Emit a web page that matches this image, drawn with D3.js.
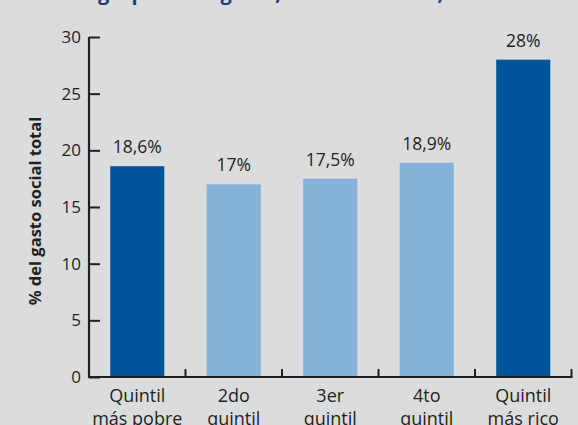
<!DOCTYPE html>
<html>
<head>
<meta charset="utf-8">
<script src="https://cdn.jsdelivr.net/npm/d3@7"></script>
<style>
  html, body { margin: 0; padding: 0; background: #dbdcde; }
  svg { display: block; }
</style>
</head>
<body>
<svg id="chart" width="578" height="425"></svg>
<script>
// Distribution of total social spending by income quintile
const categories = [["Quintil", "más pobre"], ["2do", "quintil"], ["3er", "quintil"], ["4to", "quintil"], ["Quintil", "más rico"]];
const values = [18.6, 17, 17.5, 18.9, 28];
const valueLabels = ["18,6%", "17%", "17,5%", "18,9%", "28%"];
const yTicks = [0, 5, 10, 15, 20, 25, 30];
const barColors = ["#00549a", "#86b2da", "#86b2da", "#86b2da", "#00549a"];
const titleLead = "entre los ";
const titleText = "entre los grupos de ingreso, América Latina, 2006";
const yTitle = "% del gasto social total";

const svg = d3.select("#chart");
const font = "'Open Sans', 'Noto Sans', sans-serif";
const ink = "#231f20";

const x = d3.scaleBand()
  .domain(d3.range(categories.length))
  .range([89, 571.5])
  .paddingInner(0.44)
  .paddingOuter(0.22);

const y = d3.scaleLinear().domain([0, 30]).range([377, 37]);

// heading: last line of a title that runs off the top edge
const title = svg.append("text")
  .attr("y", -0.5)
  .attr("fill", "#1f3f7a")
  .attr("font-family", font).attr("font-weight", 700).attr("font-size", 20)
  .text(titleText);
const leadWidth = title.node().getSubStringLength(0, titleLead.length);
title.attr("x", 98 - leadWidth);

// bars
svg.append("g").selectAll("rect")
  .data(values)
  .join("rect")
  .attr("x", (d, i) => x(i))
  .attr("width", x.bandwidth())
  .attr("y", d => y(d))
  .attr("height", d => y(0) - y(d))
  .attr("fill", (d, i) => barColors[i]);

// value labels
svg.append("g").selectAll("text")
  .data(values)
  .join("text")
  .attr("x", (d, i) => x(i) + x.bandwidth() / 2)
  .attr("y", d => y(d) - 13)
  .attr("text-anchor", "middle")
  .attr("fill", ink)
  .attr("font-family", font).attr("font-size", 17.5)
  .text((d, i) => valueLabels[i]);

// y axis
const yAxis = svg.append("g")
  .attr("transform", "translate(89,0)")
  .call(d3.axisRight(y).tickValues(yTicks).tickSize(11).tickFormat(""));
yAxis.select(".domain").attr("stroke", ink).attr("stroke-width", 2.2).attr("d", `M0,${y(30)}V${y(0)}`);
yAxis.selectAll(".tick line").attr("stroke", ink).attr("stroke-width", 2);

svg.append("g").selectAll("text")
  .data(yTicks)
  .join("text")
  .attr("x", 81)
  .attr("y", d => y(d))
  .attr("dy", "0.36em")
  .attr("text-anchor", "end")
  .attr("fill", ink)
  .attr("font-family", font).attr("font-size", 17)
  .text(d => d);

// x axis
const xEdges = d3.range(categories.length + 1).map(i => 89 + i * (571.5 - 89) / categories.length);
svg.append("path")
  .attr("d", `M88,${y(0)}H${xEdges[xEdges.length - 1] + 1}`)
  .attr("stroke", ink).attr("stroke-width", 2.2).attr("fill", "none");
svg.append("g").selectAll("line")
  .data(xEdges.slice(1))
  .join("line")
  .attr("x1", d => d).attr("x2", d => d)
  .attr("y1", y(0)).attr("y2", y(0) - 8)
  .attr("stroke", ink).attr("stroke-width", 2);

// category labels
const catG = svg.append("g").selectAll("text")
  .data(categories)
  .join("text")
  .attr("x", (d, i) => x(i) + x.bandwidth() / 2)
  .attr("y", 402)
  .attr("text-anchor", "middle")
  .attr("fill", ink)
  .attr("font-family", font).attr("font-size", 18);
catG.each(function (d) {
  const t = d3.select(this);
  d.forEach((line, k) => {
    t.append("tspan")
      .attr("x", t.attr("x"))
      .attr("dy", k === 0 ? 0 : 23)
      .text(line);
  });
});

// y axis title
svg.append("text")
  .attr("transform", "translate(41,211) rotate(-90)")
  .attr("text-anchor", "middle")
  .attr("fill", ink)
  .attr("font-family", font).attr("font-weight", 700).attr("font-size", 16.5)
  .text(yTitle);
</script>
</body>
</html>
